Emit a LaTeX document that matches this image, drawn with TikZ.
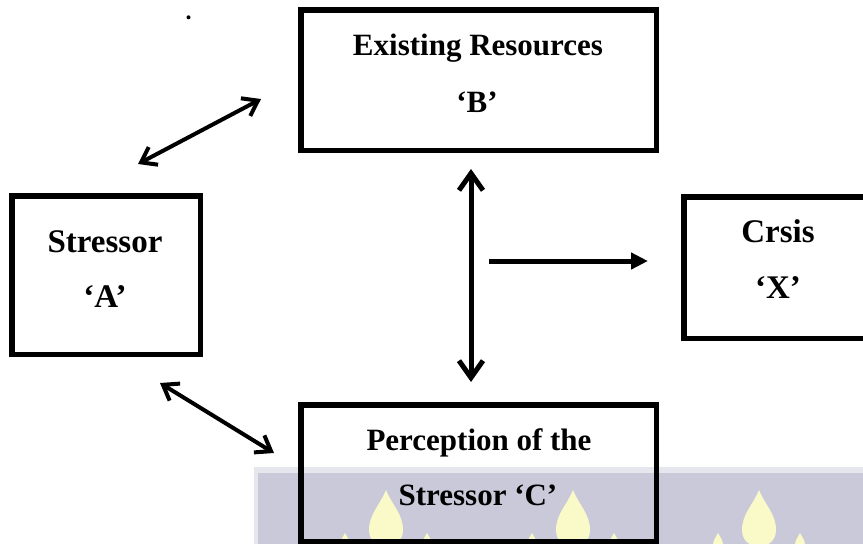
\documentclass[tikz,border=0pt]{standalone}
\usepackage{fontspec}
\setmainfont{Liberation Serif}
\usetikzlibrary{arrows.meta}
\definecolor{band}{RGB}{201,201,217}
\definecolor{bandedge}{RGB}{230,230,238}
\definecolor{flame}{RGB}{250,250,200}
\tikzset{
  box/.style={draw=black, line width=5.5pt, rectangle, inner sep=0pt},
  lbl/.style={font=\bfseries\fontsize{31}{37}\selectfont, inner sep=0pt, anchor=base},
  lblbig/.style={lbl, font=\bfseries\fontsize{33}{40}\selectfont},
  vbarb/.style={line width=5pt, {Straight Barb[length=17pt,width=24pt]}-{Straight Barb[length=17pt,width=24pt]}},
  dbarb/.style={line width=4pt, {Straight Barb[length=14pt,width=20pt]}-{Straight Barb[length=14pt,width=20pt]}},
  harrow/.style={line width=5pt, -{Triangle[length=17pt,width=16pt]}},
  bigflame/.pic={\fill[flame] (0,0) .. controls (6,15) and (17,24) .. (17,40) .. controls (17,62) and (-17,62) .. (-17,40) .. controls (-17,24) and (-6,15) .. (0,0);},
  smallflame/.pic={\fill[flame] (0,0) .. controls (2,4) and (5,7) .. (5,12) .. controls (5,20) and (-5,20) .. (-5,12) .. controls (-5,7) and (-2,4) .. (0,0);}
}
\begin{document}
\begin{tikzpicture}[x=1pt,y=-1pt]
\path[use as bounding box] (0,0) rectangle (863,544);
\clip (0,0) rectangle (863,544);
% watermark band
\fill[bandedge] (254,467) rectangle (863,544);
\fill[band] (258,473) rectangle (863,544);
\foreach \c in {386,573,759}{
  \pic at (\c,490) {bigflame};
  \pic at (\c-41,533) {smallflame};
  \pic at (\c+41,533) {smallflame};
}
% stray dot
\fill (188.5,17.3) circle (2);
% boxes
\node[box, minimum width=355.5pt, minimum height=140.5pt] (B) at (478.5,80) {};
\node[box, minimum width=188.5pt, minimum height=158.5pt] (A) at (106,275) {};
\node[box, minimum width=200pt, minimum height=141.5pt] (X) at (783.75,267.5) {};
\node[box, minimum width=355.5pt, minimum height=136.5pt] (C) at (478.5,473) {};
% texts
\node[lbl] (Bt1) at (478,55) {Existing Resources};
\node[lbl] (Bt2) at (477,112) {‘B’};
\node[lblbig] (At1) at (105,252) {Stressor};
\node[lblbig] (At2) at (105,307) {‘A’};
\node[lblbig] (Xt1) at (778,242) {Crsis};
\node[lblbig] (Xt2) at (778,298) {‘X’};
\node[lbl] (Ct1) at (479,450) {Perception of the};
\node[lbl] (Ct2) at (478,505) {Stressor ‘C’};
% connector ends
\coordinate (ab1) at (138,164);
\coordinate (ab2) at (261,99);
\coordinate (ac1) at (160,383);
\coordinate (ac2) at (274,453);
\coordinate (bc1) at (471,169);
\coordinate (bc2) at (471,382);
\coordinate (x1) at (489,261);
\coordinate (x2) at (648,261);
% connectors
\draw[dbarb] (ab1) -- (ab2);
\draw[dbarb] (ac1) -- (ac2);
\draw[vbarb] (bc1) -- (bc2);
\draw[harrow] (x1) -- (x2);
\end{tikzpicture}
\end{document}
